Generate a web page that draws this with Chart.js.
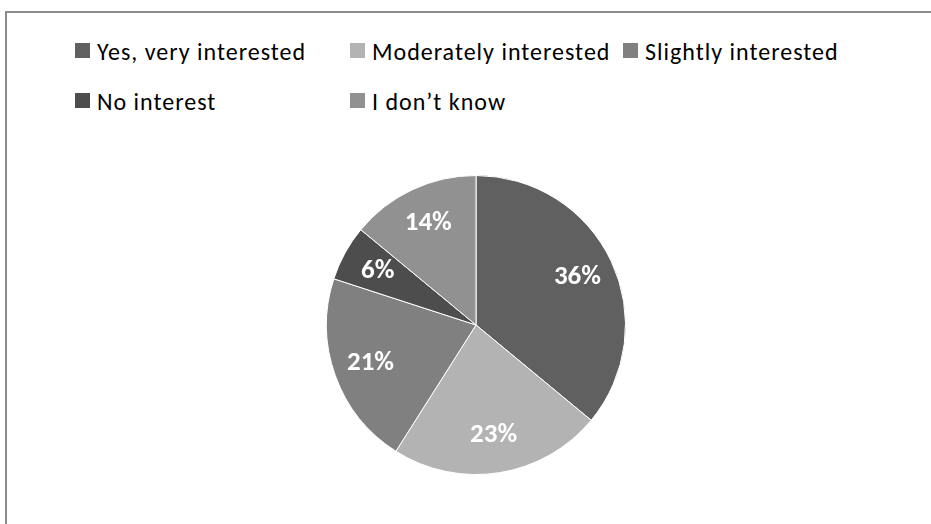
<!DOCTYPE html>
<html>
<head>
<meta charset="utf-8">
<script src="https://cdn.jsdelivr.net/npm/chart.js@4"></script>
<style>
  html, body { margin: 0; padding: 0; background: #fff; overflow: hidden; }
  body { width: 931px; height: 524px; position: relative; font-family: Carlito, Lato, "Open Sans", sans-serif; }
  #frame { position: absolute; left: 5px; top: 11px; width: 940px; height: 530px; border-left: 2px solid #8c8c8c; border-top: 2px solid #8c8c8c; box-sizing: border-box; }
  #wrap { position: absolute; left: 326px; top: 175px; width: 300px; height: 300px; }
  .leg { position: absolute; font-size: 24px; letter-spacing: 1px; color: #000; white-space: nowrap; height: 30px; }
  .leg span.box { position: absolute; left: 0; top: 6px; width: 15px; height: 15px; }
  .leg span.txt { position: absolute; left: 22px; top: 0; line-height: 30px; }
</style>
</head>
<body>
<div id="frame"></div>
<div id="legend"></div>
<div id="wrap"><canvas id="c"></canvas></div>
<script>
const categories = ["Yes, very interested", "Moderately interested", "Slightly interested", "No interest", "I don\u2019t know"];
const values = [36, 23, 21, 6, 14];
const colors = ["#606060", "#b3b3b3", "#808080", "#4d4d4d", "#919191"];
const legendPos = [[75, 37], [350, 37], [623, 37], [75, 87], [350, 87]];

const legend = document.getElementById('legend');
categories.forEach((c, i) => {
  const d = document.createElement('div');
  d.className = 'leg';
  d.style.left = legendPos[i][0] + 'px';
  d.style.top = legendPos[i][1] + 'px';
  const b = document.createElement('span');
  b.className = 'box';
  b.style.background = colors[i];
  d.appendChild(b);
  const t = document.createElement('span');
  t.className = 'txt';
  t.textContent = c;
  d.appendChild(t);
  legend.appendChild(d);
});

const labelPlugin = {
  id: 'pctLabels',
  afterDatasetsDraw(chart) {
    const ctx = chart.ctx;
    const meta = chart.getDatasetMeta(0);
    const ds = chart.data.datasets[0].data;
    const total = ds.reduce((a, b) => a + b, 0);
    ctx.save();
    ctx.fillStyle = '#fff';
    ctx.font = 'bold 27px Carlito, Lato, "Open Sans", sans-serif';
    ctx.textAlign = 'center';
    ctx.textBaseline = 'middle';
    meta.data.forEach((arc, i) => {
      const p = arc.getProps(['x', 'y', 'startAngle', 'endAngle', 'outerRadius'], true);
      const mid = (p.startAngle + p.endAngle) / 2;
      const r = p.outerRadius * 0.75;
      ctx.fillText(Math.round(ds[i] / total * 100) + '%', p.x + Math.cos(mid) * r, p.y + Math.sin(mid) * r);
    });
    ctx.restore();
  }
};

new Chart(document.getElementById('c'), {
  type: 'pie',
  data: {
    labels: categories,
    datasets: [{ data: values, backgroundColor: colors, borderColor: '#ffffff', borderWidth: 1 }]
  },
  options: {
    responsive: true,
    maintainAspectRatio: false,
    animation: false,
    layout: { padding: 0 },
    plugins: { legend: { display: false }, tooltip: { enabled: false } }
  },
  plugins: [labelPlugin]
});
</script>
</body>
</html>
